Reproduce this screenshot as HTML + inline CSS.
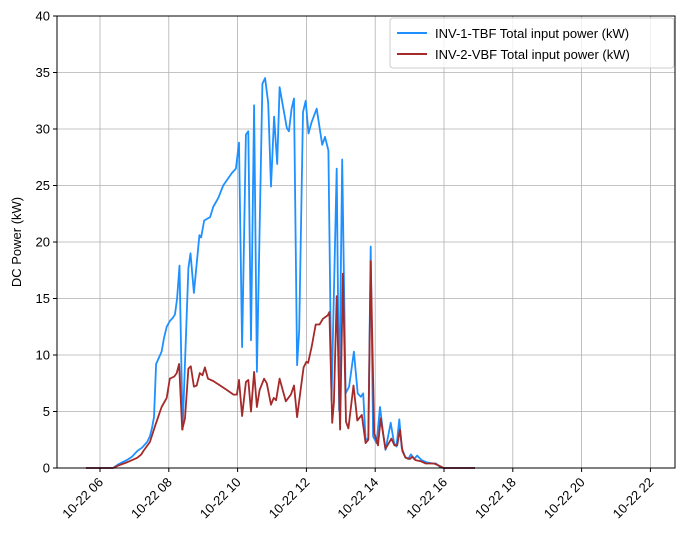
<!DOCTYPE html>
<html><head><meta charset="utf-8">
<style>
html,body{margin:0;padding:0;background:#fff;}
svg{display:block;font-family:"Liberation Sans","DejaVu Sans",sans-serif;}
</style></head>
<body>
<svg id="chart" width="687" height="542" viewBox="0 0 687 542">
  <g id="grid"></g>
  <g id="series"></g>
  <rect x="57" y="16" width="618" height="452" fill="none" stroke="#000" stroke-width="1"/>
  <g id="axes"></g>
  <text x="21" y="242" transform="rotate(-90 21 242)" text-anchor="middle" font-size="13">DC Power (kW)</text>
  <g>
    <rect x="390" y="18" width="284" height="50" rx="3" fill="#fff" fill-opacity="0.8" stroke="#ccc"/>
    <g>
      <line x1="397" y1="33" x2="427" y2="33" stroke="#1e90ff" stroke-width="2"/>
      <text x="435" y="38" font-size="13">INV-1-TBF Total input power (kW)</text>
    </g>
    <g>
      <line x1="397" y1="54" x2="427" y2="54" stroke="#a52a2a" stroke-width="2"/>
      <text x="435" y="59" font-size="13">INV-2-VBF Total input power (kW)</text>
    </g>
  </g>
</svg>
<script>
const xTickHours = [6, 8, 10, 12, 14, 16, 18, 20, 22];
const xTickLabels = ["10-22 06","10-22 08","10-22 10","10-22 12","10-22 14","10-22 16","10-22 18","10-22 20","10-22 22"];
const yTicks = [0, 5, 10, 15, 20, 25, 30, 35, 40];

const inv1Hours = [5.59,6.38,6.52,6.64,6.78,6.93,7.08,7.22,7.37,7.45,7.51,7.57,7.63,7.79,7.86,7.94,8.03,8.12,8.18,8.24,8.31,8.40,8.57,8.63,8.73,8.89,8.94,9.03,9.20,9.29,9.44,9.58,9.83,9.95,10.04,10.13,10.24,10.31,10.39,10.48,10.56,10.72,10.80,10.89,10.97,11.06,11.15,11.22,11.33,11.43,11.49,11.57,11.64,11.73,11.79,11.90,11.98,12.06,12.15,12.30,12.46,12.54,12.64,12.73,12.88,12.95,13.04,13.14,13.24,13.38,13.49,13.58,13.65,13.72,13.80,13.87,13.94,14.04,14.14,14.24,14.30,14.45,14.55,14.62,14.70,14.77,14.87,14.96,15.04,15.13,15.22,15.35,15.50,15.67,15.77,15.88,15.98,16.90];
const inv1Values = [0,0,0.3,0.5,0.7,1.0,1.5,1.8,2.3,2.8,3.5,4.5,9.2,10.3,11.5,12.5,13.0,13.3,13.6,15,17.9,3.4,17.7,19.0,15.5,20.6,20.4,21.9,22.2,23.1,23.9,25.0,26.1,26.5,28.8,10.7,29.5,29.8,11.3,32.1,8.5,34.0,34.5,32.3,24.9,31.1,26.9,33.7,31.8,30.1,29.8,31.8,32.7,9.1,12.2,31.5,32.5,29.6,30.6,31.8,28.6,29.3,28.1,6.0,26.5,5.1,27.3,6.6,7.2,10.3,6.6,6.3,6.6,2.5,2.6,19.6,2.8,2.2,5.4,2.8,1.6,4.0,2.2,1.9,4.3,1.8,1.0,0.8,1.2,0.8,1.1,0.7,0.5,0.4,0.4,0.1,0,0];

const inv2Hours = [5.59,6.38,6.52,6.78,7.08,7.20,7.26,7.45,7.60,7.79,7.94,8.03,8.16,8.23,8.30,8.39,8.47,8.57,8.64,8.73,8.81,8.90,8.98,9.05,9.14,9.29,9.49,9.69,9.88,9.98,10.04,10.13,10.24,10.31,10.39,10.48,10.56,10.64,10.77,10.85,10.97,11.05,11.12,11.22,11.31,11.40,11.55,11.64,11.73,11.83,11.92,12.00,12.05,12.15,12.27,12.38,12.48,12.62,12.67,12.75,12.80,12.88,12.98,13.06,13.15,13.22,13.37,13.48,13.61,13.72,13.80,13.87,13.97,14.08,14.16,14.30,14.47,14.56,14.64,14.72,14.79,14.88,15.01,15.08,15.17,15.32,15.47,15.71,15.86,15.99,16.90];
const inv2Values = [0,0,0.2,0.5,0.9,1.2,1.5,2.3,3.7,5.4,6.2,7.9,8.1,8.4,9.2,3.4,4.4,8.8,9.0,7.2,7.3,8.4,8.2,8.9,7.9,7.7,7.3,6.9,6.5,6.5,7.8,4.6,7.6,7.8,5.0,8.5,5.4,6.9,7.9,7.5,5.6,6.2,6.0,7.9,6.9,5.9,6.5,7.3,4.5,6.9,8.9,9.4,9.3,10.7,12.7,12.7,13.2,13.5,13.8,4.0,5.8,15.2,3.4,17.2,4.1,3.5,7.3,4.2,4.7,2.2,2.5,18.3,3.1,2.0,4.4,1.7,2.6,2.0,2.0,3.4,1.5,0.9,0.8,1.0,0.7,0.6,0.4,0.4,0.2,0,0];

const X0 = 57, X1 = 675, Y0 = 468, Y1 = 16;
const xMin = 6 + (X0 - 100) / 34.4, xMax = 6 + (X1 - 100) / 34.4;
const yMin = 0, yMax = 40;
function xScale(h){ return X0 + (h - xMin) / (xMax - xMin) * (X1 - X0); }
function yScale(v){ return Y0 - (v - yMin) / (yMax - yMin) * (Y0 - Y1); }
const NS = "http://www.w3.org/2000/svg";
function mk(tag, attrs, parent){ const e = document.createElementNS(NS, tag); for (const k in attrs) e.setAttribute(k, attrs[k]); parent.appendChild(e); return e; }
const grid = document.getElementById("grid"), axes = document.getElementById("axes"), series = document.getElementById("series");

xTickHours.forEach((h, i) => {
  const x = xScale(h);
  const gl = mk("line", {x1:x, y1:Y1, x2:x, y2:Y0, stroke:"#b0b0b0", "stroke-width":0.8}, grid);
  
  
  const tk = mk("line", {x1:x, y1:Y0, x2:x, y2:Y0+4, stroke:"#000"}, axes);
  
  
  const t = mk("text", {x:x+4, y:Y0+15, "text-anchor":"end", "font-size":13, transform:`rotate(-45 ${x+4} ${Y0+15})`}, axes);
  t.textContent = xTickLabels[i];
  
  
});
yTicks.forEach(v => {
  const y = yScale(v);
  const gl = mk("line", {x1:X0, y1:y, x2:X1, y2:y, stroke:"#b0b0b0", "stroke-width":0.8}, grid);
  
  
  const tk = mk("line", {x1:X0-4, y1:y, x2:X0, y2:y, stroke:"#000"}, axes);
  
  
  const t = mk("text", {x:X0-7, y:y+4.5, "text-anchor":"end", "font-size":13}, axes);
  t.textContent = v;
  
  
});
function drawLine(hours, vals, color, name){
  const d = hours.map((h, i) => (i ? "L" : "M") + xScale(h).toFixed(1) + "," + yScale(vals[i]).toFixed(1)).join(" ");
  const p = mk("path", {d:d, fill:"none", stroke:color, "stroke-width":1.8, "stroke-linejoin":"round"}, series);
  
  
}
drawLine(inv1Hours, inv1Values, "#1e90ff", "inv1-line");
drawLine(inv2Hours, inv2Values, "#a52a2a", "inv2-line");
</script>
</body></html>
